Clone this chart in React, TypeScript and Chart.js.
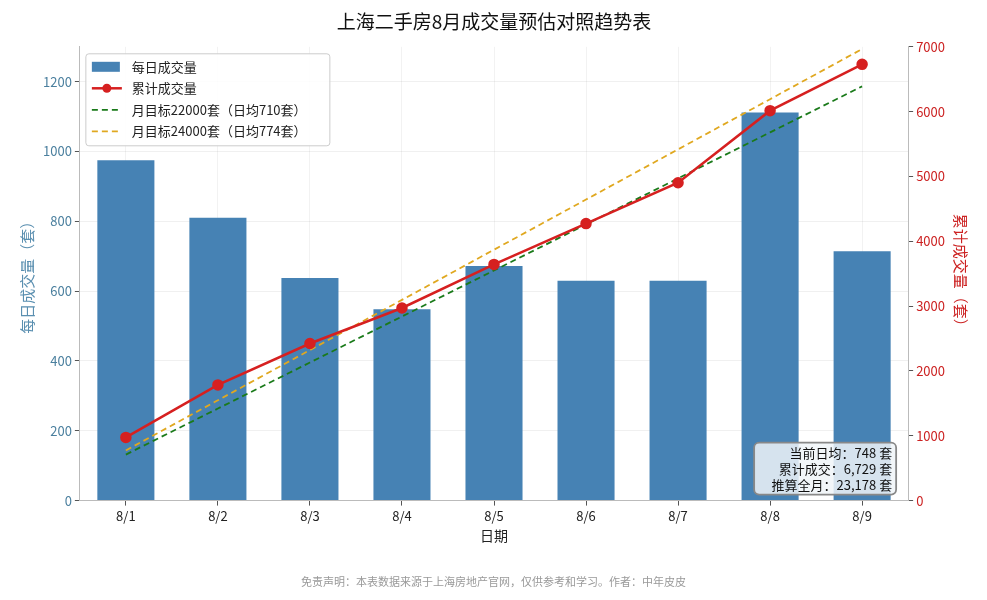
import React, { useEffect, useRef } from "react";
import { Chart, registerables } from "chart.js";
Chart.register(...registerables);

const categories = ["8/1", "8/2", "8/3", "8/4", "8/5", "8/6", "8/7", "8/8", "8/9"];
const daily = [975, 810, 638, 548, 672, 630, 630, 1112, 714];
const cumulative = [975, 1785, 2423, 2971, 3643, 4273, 4903, 6015, 6729];
const target22000 = [710, 1420, 2130, 2840, 3550, 4260, 4970, 5680, 6390];
const target24000 = [774, 1548, 2322, 3096, 3870, 4644, 5418, 6192, 6966];
const infoLines = ["当前日均：748 套", "累计成交：6,729 套", "推算全月：23,178 套"];

const FONT = "'Noto Sans CJK SC', 'DejaVu Sans', sans-serif";
const BLUE = "#4682b4";
const RED = "#d62020";

const overlay = {
  id: "overlay",
  afterDraw(chart: any) {
    const ctx = chart.ctx;
    const a = chart.chartArea;
    ctx.save();
    const lx = a.left + 6, ly = a.top + 7, lw = 244, lh = 92;
    ctx.fillStyle = "rgba(255,255,255,0.85)";
    ctx.strokeStyle = "#cccccc";
    ctx.lineWidth = 1;
    ctx.beginPath();
    ctx.roundRect(lx, ly, lw, lh, 3);
    ctx.fill();
    ctx.stroke();
    ctx.font = "13px " + FONT;
    ctx.textBaseline = "middle";
    ctx.textAlign = "left";
    const rows = [
      { t: "每日成交量", kind: "bar", c: BLUE },
      { t: "累计成交量", kind: "line", c: RED },
      { t: "月目标22000套（日均710套）", kind: "dash", c: "#1a7a1a" },
      { t: "月目标24000套（日均774套）", kind: "dash", c: "#e0a820" },
    ];
    rows.forEach((r, i) => {
      const y = ly + 13 + i * 21.5;
      const x0 = lx + 6;
      if (r.kind === "bar") {
        ctx.fillStyle = r.c;
        ctx.fillRect(x0, y - 5, 28, 10);
      } else {
        ctx.strokeStyle = r.c;
        ctx.lineWidth = r.kind === "line" ? 2.5 : 1.8;
        ctx.setLineDash(r.kind === "dash" ? [6, 4] : []);
        ctx.beginPath();
        ctx.moveTo(x0, y);
        ctx.lineTo(x0 + 30, y);
        ctx.stroke();
        ctx.setLineDash([]);
        if (r.kind === "line") {
          ctx.fillStyle = r.c;
          ctx.beginPath();
          ctx.arc(x0 + 15, y, 4.5, 0, Math.PI * 2);
          ctx.fill();
        }
      }
      ctx.fillStyle = "#222";
      ctx.fillText(r.t, x0 + 40, y);
    });
    const bw = 142, bh = 52;
    const bx = a.right - bw - 12, by = a.bottom - bh - 6;
    ctx.fillStyle = "rgba(240,244,248,0.85)";
    ctx.strokeStyle = "#888";
    ctx.beginPath();
    ctx.roundRect(bx, by, bw, bh, 5);
    ctx.fill();
    ctx.stroke();
    ctx.fillStyle = "#111";
    ctx.textAlign = "right";
    infoLines.forEach((t, i) => ctx.fillText(t, bx + bw - 4, by + 10 + i * 16));
    ctx.font = "11px " + FONT;
    ctx.fillStyle = "#999";
    ctx.textAlign = "center";
    ctx.fillText("免责声明：本表数据来源于上海房地产官网，仅供参考和学习。作者：中年皮皮", chart.width / 2, 582);
    ctx.restore();
  },
};

export default function App() {
  const ref = useRef<HTMLCanvasElement>(null);
  useEffect(() => {
    const chart = new Chart(ref.current!, {
      type: "bar",
      data: {
        labels: categories,
        datasets: [
          { type: "bar", label: "每日成交量", data: daily, backgroundColor: BLUE, yAxisID: "y", barPercentage: 0.62, categoryPercentage: 1, order: 4 },
          { type: "line", label: "累计成交量", data: cumulative, borderColor: RED, backgroundColor: RED, borderWidth: 2.5, pointRadius: 4.5, pointBackgroundColor: RED, yAxisID: "y1", order: 1 },
          { type: "line", label: "g", data: target22000, borderColor: "#1a7a1a", borderWidth: 1.8, borderDash: [6, 4], pointRadius: 0, yAxisID: "y1", order: 3 },
          { type: "line", label: "o", data: target24000, borderColor: "#e0a820", borderWidth: 1.8, borderDash: [6, 4], pointRadius: 0, yAxisID: "y1", order: 2 },
        ],
      },
      options: {
        animation: false,
        responsive: false,
        layout: { padding: { left: 14, right: 13, top: 6, bottom: 52 } },
        plugins: {
          legend: { display: false },
          tooltip: { enabled: false },
          title: { display: true, text: "上海二手房8月成交量预估对照趋势表", font: { family: FONT, size: 19, weight: "normal" }, color: "#111", padding: { top: 4, bottom: 14 } },
        },
        scales: {
          x: {
            grid: { color: "rgba(0,0,0,0.05)", offset: false, tickColor: "#555", tickLength: 5 },
            border: { color: "#bbb" },
            ticks: { color: "#222", font: { family: FONT, size: 13 } },
            title: { display: true, text: "日期", color: "#222", font: { family: FONT, size: 14 }, padding: { top: 0 } },
          },
          y: {
            position: "left", min: 0, max: 1300,
            afterBuildTicks: (s: any) => { s.ticks = s.ticks.filter((t: any) => t.value % 200 === 0); },
            ticks: { stepSize: 100, color: "#4a7f9e", font: { family: FONT, size: 13 }, callback: (v: any) => String(v) },
            grid: { color: "rgba(0,0,0,0.06)", tickColor: "#555", tickLength: 5 },
            border: { color: "#bbb" },
            title: { display: true, text: "每日成交量（套）", color: "#5a8fb0", font: { family: FONT, size: 15 } },
          },
          y1: {
            position: "right", min: 0, max: 7000,
            ticks: { stepSize: 1000, color: "#cc2222", font: { family: FONT, size: 13 }, callback: (v: any) => String(v) },
            grid: { drawOnChartArea: false, tickColor: "#555", tickLength: 5 },
            border: { color: "#bbb" },
            title: { display: true, text: "累计成交量（套）", color: "#cc2222", font: { family: FONT, size: 15 } },
          },
        },
      },
      plugins: [overlay],
    } as any);
    return () => chart.destroy();
  }, []);
  return (
    <div style={{ position: "absolute", left: 0, top: 0, width: 987, height: 600, background: "#fff" }}>
      <canvas ref={ref} width={987} height={600} style={{ width: 987, height: 600 }} />
    </div>
  );
}
